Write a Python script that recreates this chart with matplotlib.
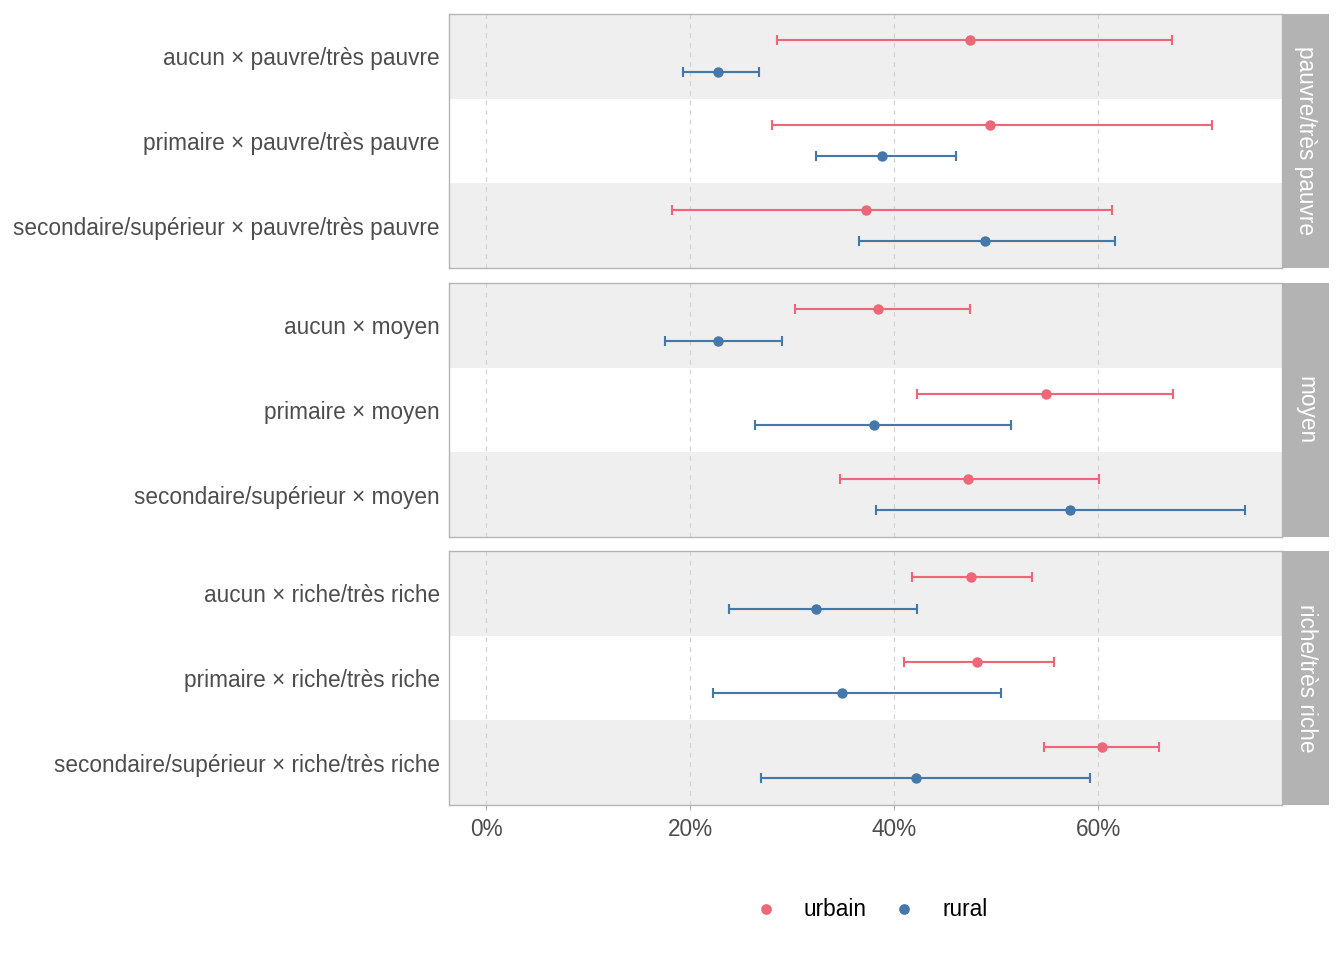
import numpy as np
import matplotlib
matplotlib.use("Agg")
import matplotlib.pyplot as plt
from matplotlib.lines import Line2D
from matplotlib.ticker import FuncFormatter

plt.rcParams['font.family'] = ['Liberation Sans', 'DejaVu Sans']

# data (proportions in %)
panels = ["pauvre/très pauvre", "moyen", "riche/très riche"]
educ = ["aucun", "primaire", "secondaire/supérieur"]

urbain_est = [[47.4, 49.4, 37.2], [38.4, 54.9, 47.2], [47.5, 48.1, 60.4]]
urbain_lo = [[28.5, 28.0, 18.2], [30.3, 42.2, 34.7], [41.7, 41.0, 54.7]]
urbain_hi = [[67.2, 71.1, 61.3], [47.4, 67.3, 60.1], [53.5, 55.7, 65.9]]

rural_est = [[22.7, 38.8, 48.9], [22.7, 38.0, 57.2], [32.3, 34.9, 42.1]]
rural_lo = [[19.3, 32.3, 36.5], [17.5, 26.4, 38.2], [23.8, 22.2, 26.9]]
rural_hi = [[26.7, 46.1, 61.6], [29.0, 51.4, 74.4], [42.2, 50.5, 59.2]]

col_urbain = "#EE6677"
col_rural = "#4477AA"
txt_col = "#4D4D4D"
fs = 17
W, H = 1344, 960

fig = plt.figure(figsize=(W / 96, H / 96), dpi=96)

panel_top = [14, 283, 551]
panel_h = 254
left, right = 449, 1282
strip_w = 46

for p in range(3):
    top = panel_top[p]
    ax = fig.add_axes([left / W, (H - top - panel_h) / H, (right - left) / W, panel_h / H])
    ax.set_xlim(-3.63, 78.0)
    ax.set_ylim(2.5, -0.5)
    # banding
    for i in range(3):
        if i % 2 == 0:
            ax.axhspan(i - 0.5, i + 0.5, color="#EFEFEF", zorder=0, lw=0)
    for xv in [0, 20, 40, 60]:
        ax.axvline(xv, color="#D3D3D3", lw=0.9, ls=(0, (4, 4)), zorder=1)
    y = np.arange(3)
    for est, lo, hi, col, off in [(urbain_est, urbain_lo, urbain_hi, col_urbain, -0.19),
                                  (rural_est, rural_lo, rural_hi, col_rural, 0.18)]:
        e = np.array(est[p]); l = np.array(lo[p]); h = np.array(hi[p])
        ax.errorbar(e, y + off, xerr=[e - l, h - e], fmt="o", color=col, ms=6.8,
                    elinewidth=1.6, capsize=3.5, capthick=1.6, zorder=3)
    ax.set_yticks(y)
    ax.set_yticklabels([f"{ed} × {panels[p]}" for ed in educ], fontsize=fs, color=txt_col)
    ax.tick_params(axis="y", length=0, pad=7)
    for s in ax.spines.values():
        s.set_color("#B3B3B3")
        s.set_linewidth(1.0)
    if p < 2:
        ax.set_xticks([])
    else:
        ax.set_xticks([0, 20, 40, 60])
        ax.xaxis.set_major_formatter(FuncFormatter(lambda v, pos: f"{v:.0f}%"))
        ax.tick_params(axis="x", labelsize=fs, labelcolor=txt_col, color="#B3B3B3",
                       length=4, pad=6)
    # strip
    sax = fig.add_axes([(right + 1) / W, (H - top - panel_h) / H, strip_w / W, panel_h / H])
    sax.set_facecolor("#B3B3B3")
    sax.set_xticks([]); sax.set_yticks([])
    for s in sax.spines.values():
        s.set_visible(False)
    sax.text(0.5, 0.5, panels[p], rotation=-90, ha="center", va="center",
             color="white", fontsize=fs, transform=sax.transAxes)

handles = [Line2D([], [], marker="o", ls="", color=col_urbain, ms=7, label="urbain"),
           Line2D([], [], marker="o", ls="", color=col_rural, ms=7, label="rural")]
fig.legend(handles=handles, loc="center", bbox_to_anchor=(871 / W, 1 - 910 / H),
           ncol=2, frameon=False, fontsize=fs, handlelength=1.0, handletextpad=1.17,
           columnspacing=1.17, labelcolor="black")

fig.savefig("out.png", dpi=96)
